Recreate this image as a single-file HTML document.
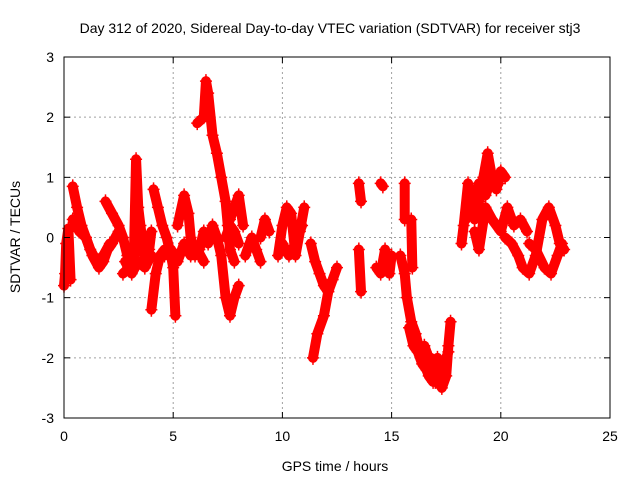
<!DOCTYPE html>
<html><head><meta charset="utf-8"><style>
body{margin:0;background:#fff;}
svg text{font-family:"Liberation Sans",sans-serif;font-size:14px;fill:#000;}
</style></head><body>
<svg id="chart" width="640" height="480" viewBox="0 0 640 480" xmlns="http://www.w3.org/2000/svg">
<rect width="640" height="480" fill="#fff"/>
<text x="330" y="33" text-anchor="middle">Day 312 of 2020, Sidereal Day-to-day VTEC variation (SDTVAR) for receiver stj3</text>
<text x="335" y="471" text-anchor="middle">GPS time / hours</text>
<text transform="translate(20,237) rotate(-90)" text-anchor="middle">SDTVAR / TECUs</text>
<g id="grid"></g>
<g id="marks"></g>
<rect x="64" y="57" width="546" height="361" fill="none" stroke="#000" stroke-width="1"/>
<g id="ticks"></g>
</svg>
<script>
const xTicks=[0,5,10,15,20,25];
const yTicks=[-3,-2,-1,0,1,2,3];
const trackTimes=[
[0,0.05,0.1,0.2,0.3],
[0.4,0.6,0.8,1.0,1.3,1.6,1.8,2.0,2.2,2.5],
[0.4,0.7,1,1.2,1.5,1.8,2.1],
[1.9,2.2,2.5,2.7,2.9],
[2.7,3.0,3.2,3.3,3.4,3.5,3.7,3.9,4.0],
[2.8,3.1,3.4,3.7,4.0],
[4.1,4.3,4.5,4.7,4.9,5.0,5.1],
[4.0,4.2,4.4,4.6],
[4.6,4.9,5.2,5.5,5.8,6.1,6.4],
[5.2,5.5,5.7,5.8,6.0,6.2,6.4],
[6.1,6.4,6.5,6.6,6.8,7.0,7.2,7.4,7.5,7.6,7.8],
[6.6,6.8,7.0,7.2,7.4,7.6,7.8,8.0],
[7.6,7.8,8.0,8.2],
[7.4,7.6,7.8,8.0],
[8.3,8.6,8.8,9.0],
[9.0,9.2,9.4],
[9.8,10.0,10.2,10.4,10.6,10.8,11.0],
[10.0,10.3,10.6,10.9],
[11.3,11.5,11.7,11.9,12.1,12.3,12.5],
[11.4,11.6,11.9,12.1],
[13.5,13.6],
[13.5,13.6],
[14.5,14.6],
[14.3,14.5,14.7,14.9,15.0],
[15.4,15.6,15.7,15.9,16.1,16.3,16.5,16.7,16.9,17.0,17.1],
[15.8,16.0,16.2,16.4,16.6,16.8,17.0],
[16.8,17.0,17.3,17.5,17.6,17.7],
[16.5,16.8,17.1,17.3,17.6],
[15.6,15.6],
[15.9,15.95],
[18.2,18.3,18.5,18.6,18.8,19.0,19.2,19.4,19.6,19.8,20.0,20.2],
[18.4,18.7,19.0,19.3,19.6,19.9],
[18.8,19,19.3,19.6,20,20.3,20.6,20.9,21.2],
[20.2,20.5,20.8,21.0,21.3,21.6,21.9,22.2,22.5,22.7,22.9],
[21.3,21.6,22,22.3,22.6,22.8]
];
const trackValues=[
[-0.8,-0.6,-0.1,0.15,-0.7],
[0.85,0.5,0.2,0,-0.3,-0.5,-0.4,-0.2,-0.1,0.1],
[0.3,0.1,0,-0.2,-0.4,-0.3,-0.1],
[0.6,0.4,0.2,0.0,-0.3],
[-0.6,-0.5,-0.3,1.3,0.5,0.2,-0.4,-0.2,0.1],
[-0.4,-0.6,-0.4,-0.5,-0.3],
[0.8,0.5,0.2,0.0,-0.3,-0.5,-1.3],
[-1.2,-0.6,-0.3,-0.2],
[-0.3,-0.2,-0.4,-0.1,-0.3,-0.2,-0.4],
[0.2,0.7,0.4,0,-0.3,-0.2,0.1],
[1.9,2.0,2.6,2.4,1.7,1.4,1.0,0.6,0.2,-0.2,-0.4],
[-0.1,0.2,0.0,-0.3,-1.0,-1.3,-1.0,-0.8],
[0.3,0.5,0.7,0.2],
[0.0,0.2,0.1,-0.1],
[-0.3,0,-0.2,-0.4],
[0.0,0.3,0.1],
[-0.3,0.2,0.5,0.4,-0.3,0.1,0.5],
[-0.1,-0.3,-0.1,0.2],
[-0.1,-0.4,-0.6,-0.8,-0.9,-0.7,-0.5],
[-2.0,-1.6,-1.3,-0.9],
[0.9,0.6],
[-0.2,-0.9],
[0.9,0.85],
[-0.5,-0.6,-0.2,-0.6,-0.3],
[-0.3,-0.6,-1.0,-1.4,-1.6,-1.9,-2.1,-2.3,-2.4,-2.2,-2.0],
[-1.5,-1.8,-1.9,-2.1,-2.2,-2.3,-2.4],
[-2.0,-2.3,-2.5,-2.3,-1.8,-1.4],
[-1.8,-2.1,-2.3,-2.2,-1.9],
[0.9,0.3],
[0.3,-0.5],
[-0.1,0.2,0.9,0.5,0.3,0.6,1.0,1.4,1.0,0.8,1.1,1.0],
[0.3,0.6,0.9,0.7,1.0,0.9],
[0.1,-0.2,0.5,0.3,0.1,0.5,0.2,0.3,0.1],
[0.0,-0.1,-0.3,-0.5,-0.6,-0.3,0.3,0.5,0.2,-0.1,-0.2],
[-0.1,-0.2,-0.5,-0.6,-0.3,-0.1]
];
const L=64,R=610,T=57,B=418;
function xs(t){return L+(t-0)/(25-0)*(R-L);}
function ys(v){return B-(v+3)/6*(B-T);}
const NS="http://www.w3.org/2000/svg";
const grid=document.getElementById('grid'),ticks=document.getElementById('ticks'),marks=document.getElementById('marks');
function mk(tag,attrs,parent){const e=document.createElementNS(NS,tag);for(const k in attrs)e.setAttribute(k,attrs[k]);parent.appendChild(e);return e;}
xTicks.forEach(t=>{const x=xs(t);
 if(t>0&&t<25){const g=mk('line',{x1:x,x2:x,y1:T,y2:B,stroke:'#a0a0a0','stroke-dasharray':'2,3'},grid);}
 const a=mk('line',{x1:x,x2:x,y1:B,y2:B-6,stroke:'#000'},ticks);
 const b=mk('line',{x1:x,x2:x,y1:T,y2:T+6,stroke:'#000'},ticks);
 const l=mk('text',{x:x,y:B+23,'text-anchor':'middle'},ticks);l.textContent=t;});
yTicks.forEach(v=>{const y=ys(v);
 if(v>-3&&v<3){const g=mk('line',{x1:L,x2:R,y1:y,y2:y,stroke:'#a0a0a0','stroke-dasharray':'2,3'},grid);}
 const a=mk('line',{x1:L,x2:L+6,y1:y,y2:y,stroke:'#000'},ticks);
 const b=mk('line',{x1:R,x2:R-6,y1:y,y2:y,stroke:'#000'},ticks);
 const l=mk('text',{x:L-10,y:y+5,'text-anchor':'end'},ticks);l.textContent=v;});
trackTimes.forEach((ts,i)=>{const vs=trackValues[i];
 const pts=ts.map((t,j)=>xs(t)+','+ys(vs[j])).join(' ');
 const p=mk('polyline',{points:pts,fill:'none',stroke:'#f00','stroke-width':10,'stroke-linejoin':'round','stroke-linecap':'round'},marks);
 
 
 ts.forEach((t,j)=>{const x=xs(t),y=ys(vs[j]);
  const m=mk('path',{d:`M${x-6},${y}H${x+6}M${x},${y-7}V${y+7}`,stroke:'#f00','stroke-width':1.5},marks);
  
  });
});
</script>
</body></html>
